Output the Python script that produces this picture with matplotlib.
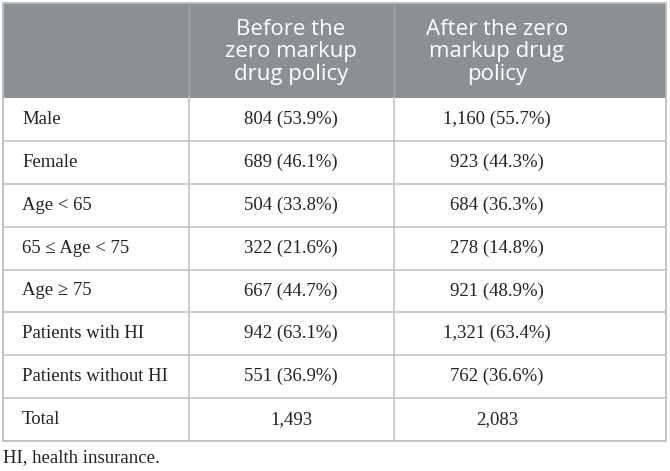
import matplotlib
matplotlib.use("Agg")
import matplotlib.pyplot as plt
from matplotlib.patches import Rectangle

# table content
col_headers = ["", "Before the\nzero markup\ndrug policy", "After the zero\nmarkup drug\npolicy"]
row_labels = ["Male", "Female", "Age < 65", "65 \u2264 Age < 75", "Age \u2265 75",
              "Patients with HI", "Patients without HI", "Total"]
before_n = ["804", "689", "504", "322", "667", "942", "551", "1,493"]
before_pct = ["53.9%", "46.1%", "33.8%", "21.6%", "44.7%", "63.1%", "36.9%", None]
after_n = ["1,160", "923", "684", "278", "921", "1,321", "762", "2,083"]
after_pct = ["55.7%", "44.3%", "36.3%", "14.8%", "48.9%", "63.4%", "36.6%", None]
footnote = "HI, health insurance."

W, H = 670, 471
col_edges = [3, 189, 394, 666]
header_top, header_bot = 3, 98
row_h = (441 - header_bot) / len(row_labels)
col_text_x = [22, 291, 497]

header_color = "#8b9094"
grid_color = "#c8c8c8"
serif = ["Liberation Serif", "DejaVu Serif"]
sans = ["Open Sans", "DejaVu Sans"]


def cell(n, pct):
    return n if pct is None else "%s (%s)" % (n, pct)


fig = plt.figure(figsize=(W / 100, H / 100), dpi=100)
ax = fig.add_axes([0, 0, 1, 1])
ax.set_xlim(0, W)
ax.set_ylim(H, 0)
ax.axis("off")

# header band
ax.add_patch(Rectangle((col_edges[0], header_top), col_edges[-1] - col_edges[0],
                       header_bot - header_top, facecolor=header_color, edgecolor="none"))
for j in (1, 2):
    ax.plot([col_edges[j], col_edges[j]], [header_top, header_bot], color="#a3a7aa", lw=1)
    ax.text(col_text_x[j], (header_top + header_bot) / 2 + 1.5, col_headers[j], color="white",
            family=sans, fontsize=16, ha="center", va="center", linespacing=1.08)

# body rows
bottom = header_bot + row_h * len(row_labels)
for i, lab in enumerate(row_labels):
    y0 = header_bot + i * row_h
    yc = y0 + row_h / 2
    ax.text(col_text_x[0], yc, lab, family=serif, fontsize=13.5, ha="left", va="center", color="#222222")
    ax.text(col_text_x[1], yc, cell(before_n[i], before_pct[i]), family=serif, fontsize=13.5,
            ha="center", va="center", color="#222222")
    ax.text(col_text_x[2], yc, cell(after_n[i], after_pct[i]), family=serif, fontsize=13.5,
            ha="center", va="center", color="#222222")
    if i > 0:
        ax.plot([col_edges[0], col_edges[-1]], [y0, y0], color=grid_color, lw=1.3)

for j in (1, 2):
    ax.plot([col_edges[j], col_edges[j]], [header_bot, bottom], color=grid_color, lw=1.3)

# outer border
ax.add_patch(Rectangle((col_edges[0], header_top), col_edges[-1] - col_edges[0],
                       bottom - header_top, facecolor="none", edgecolor="#bdbdbd", lw=1.3))

ax.text(3, 458, footnote, family=serif, fontsize=13.5, ha="left", va="center", color="#222222")

fig.savefig("out.png", dpi=100)
